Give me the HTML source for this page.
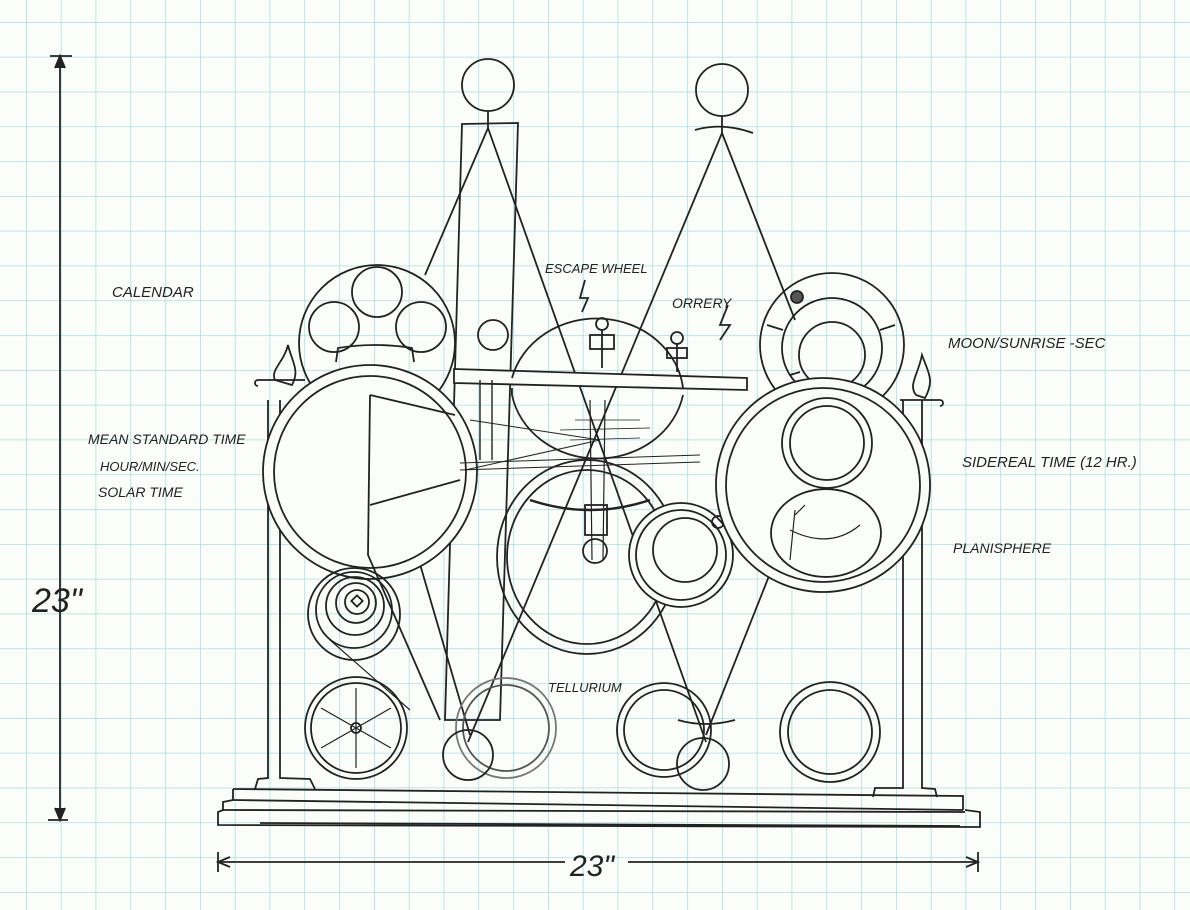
<!DOCTYPE html>
<html><head><meta charset="utf-8"><style>
html,body{margin:0;padding:0;background:#fdfefd;}
svg{display:block;}
text{font-family:"Liberation Sans",sans-serif;font-style:italic;fill:#222;}
</style></head><body>
<svg width="1190" height="910" viewBox="0 0 1190 910" xmlns="http://www.w3.org/2000/svg">
<defs>
<pattern id="g" x="26" y="22" width="34.8" height="34.8" patternUnits="userSpaceOnUse">
<path d="M0 0V34.8M0 0H34.8" stroke="#9fd6d2" stroke-width="1.3" fill="none"/>
</pattern>
</defs>
<rect width="1190" height="910" fill="#fbfdfb"/>
<rect width="1190" height="910" fill="url(#g)"/>

<g stroke="#222" fill="none" stroke-width="1.8">
<!-- dimension vertical -->
<line x1="60" y1="56" x2="60" y2="820"/>
<line x1="50" y1="56" x2="72" y2="56"/>
<path d="M55 68 L60 56 L65 68" fill="#222"/>
<line x1="48" y1="820" x2="68" y2="820"/>
<path d="M55 808 L60 820 L65 808" fill="#222"/>
<!-- dimension horizontal -->
<line x1="218" y1="862" x2="565" y2="862"/>
<line x1="628" y1="862" x2="978" y2="862"/>
<line x1="218" y1="852" x2="218" y2="872"/>
<line x1="978" y1="852" x2="978" y2="872"/>
<path d="M230 857 L218 862 L230 867"/>
<path d="M966 857 L978 862 L966 867"/>

<!-- base -->
<path d="M233 789 L963 796 L963 810"/>
<path d="M233 789 L233 800 L223 802 L223 810 L218 812 L218 825 L980 827 L980 812 L965 810"/>
<line x1="233" y1="800" x2="963" y2="810"/>
<line x1="223" y1="810" x2="965" y2="812"/>
<line x1="260" y1="823" x2="960" y2="826"/>
<!-- columns -->
<path d="M255 789 L258 779 L268 778 L268 400 M280 400 L280 778 L310 779 L315 789"/>
<path d="M873 797 L875 788 L903 788 L903 400 M922 400 L922 788 L935 789 L937 797"/>
<!-- candle flames -->
<path d="M275 380 C270 370 284 362 288 345 C292 362 300 370 292 385 Z"/>
<path d="M916 395 C908 385 918 375 922 355 C928 372 935 380 925 398 Z"/>
<path d="M258 380 L305 380 M258 380 c-4 0 -4 6 0 6 M900 400 L940 400 c4 0 4 6 0 6"/>

<!-- pendulums -->
<circle cx="488" cy="85" r="26"/>
<line x1="488" y1="111" x2="488" y2="128"/>
<path d="M462 124 L518 123 L500 720 L445 720 Z"/>
<line x1="488" y1="128" x2="425" y2="275"/>
<line x1="488" y1="128" x2="706" y2="742"/>
<circle cx="722" cy="90" r="26"/>
<line x1="722" y1="116" x2="722" y2="133"/>
<path d="M695 130 Q722 122 753 133"/>
<line x1="722" y1="133" x2="468" y2="742"/>
<line x1="722" y1="133" x2="795" y2="320"/>
<line x1="369" y1="390" x2="470" y2="735"/>
<line x1="769" y1="576" x2="706" y2="735"/>
<path d="M678 720 Q705 728 735 720"/>

<!-- calendar -->
<circle cx="377" cy="343" r="78"/>
<circle cx="377" cy="292" r="25"/>
<circle cx="334" cy="327" r="25"/>
<circle cx="421" cy="327" r="25"/>
<path d="M336 362 L338 348 Q375 342 412 348 L414 362"/>

<!-- left big ring -->
<circle cx="370" cy="472" r="107" fill="#fbfdfb"/>
<circle cx="370" cy="472" r="96"/>
<path d="M370 395 L368 555 L440 720 M370 395 L455 415 M370 505 L460 480"/>

<!-- bar -->
<path d="M454 369 L747 378 L747 390 L454 383 Z" fill="#fbfdfb"/>

<!-- escape wheel -->
<path d="M512 378 A87 78 0 0 1 683 388"/>
<path d="M683 395 A87 78 0 0 1 512 395 A87 78 0 0 1 512 388"/>
<path d="M470 420 L600 440 L465 470" stroke-width="1"/>
<path d="M480 380 L480 460 M492 380 L492 460" stroke-width="1.4"/>
<path d="M460 463 L700 455 M460 470 L700 462" stroke-width="1"/>
<path d="M575 420 L640 420 M560 430 L650 428 M570 440 L640 438" stroke-width="0.8"/>
<path d="M590 400 L592 560 M605 400 L603 560" stroke-width="1.2"/>
<!-- figures -->
<circle cx="602" cy="324" r="6"/><rect x="590" y="335" width="24" height="14"/>
<line x1="602" y1="330" x2="602" y2="368"/>
<circle cx="677" cy="338" r="6"/><rect x="667" y="348" width="20" height="10"/>
<line x1="677" y1="344" x2="677" y2="372"/>
<circle cx="493" cy="335" r="15"/>
<path d="M585 280 L580 298 L588 298 L582 312 M728 305 L720 325 L730 325 L720 340"/>

<!-- lower center ring -->
<ellipse cx="587" cy="557" rx="90" ry="97"/>
<ellipse cx="587" cy="557" rx="80" ry="87"/>
<circle cx="595" cy="551" r="12"/>
<path d="M530 500 Q590 520 650 500" stroke-width="2.5"/>
<rect x="585" y="505" width="22" height="30"/>
<!-- small orrery ring -->
<circle cx="681" cy="555" r="52" fill="#fbfdfb"/>
<circle cx="681" cy="555" r="45"/>
<circle cx="685" cy="550" r="32"/>
<circle cx="718" cy="522" r="6"/>

<!-- moon dial -->
<circle cx="832" cy="345" r="72"/>
<circle cx="832" cy="348" r="50"/>
<circle cx="832" cy="355" r="33"/>
<path d="M767 325 L783 330 M880 330 L895 325 M790 375 L800 372"/>
<circle cx="797" cy="297" r="6" fill="#555"/>
<!-- right big ring -->
<circle cx="823" cy="485" r="107" fill="#fbfdfb"/>
<circle cx="823" cy="485" r="97"/>
<circle cx="827" cy="443" r="45"/>
<circle cx="827" cy="443" r="37"/>
<path d="M771 533 A55 44 0 0 1 881 533 A55 44 0 0 1 771 533 Z"/>
<path d="M790 530 Q830 550 860 525" stroke-width="1.2"/>
<path d="M795 510 L790 560 M805 505 L795 515" stroke-width="1.2"/>

<!-- spiral -->
<circle cx="354" cy="614" r="46"/>
<circle cx="354" cy="610" r="38"/>
<circle cx="355" cy="606" r="29"/>
<circle cx="356" cy="603" r="20"/>
<circle cx="357" cy="602" r="12"/>
<rect x="353" y="597" width="8" height="8" transform="rotate(45 357 601)"/>
<line x1="330" y1="640" x2="410" y2="710" stroke-width="1.2"/>

<!-- bottom wheels -->
<circle cx="356" cy="728" r="51"/>
<circle cx="356" cy="728" r="45"/>
<circle cx="356" cy="728" r="5"/>
<path d="M356 688 L356 768 M321 708 L391 748 M321 748 L391 708" stroke-width="1.2"/>
<circle cx="506" cy="728" r="50" stroke="#777"/>
<circle cx="506" cy="728" r="43" stroke="#555"/>
<circle cx="468" cy="755" r="25"/>
<circle cx="664" cy="730" r="47"/>
<circle cx="664" cy="730" r="40"/>
<circle cx="703" cy="764" r="26"/>
<circle cx="830" cy="732" r="50"/>
<circle cx="830" cy="732" r="42"/>
</g>

<g font-size="14">
<text x="112" y="297" font-size="15">CALENDAR</text>
<text x="545" y="273" font-size="13">ESCAPE WHEEL</text>
<text x="672" y="308" font-size="14">ORRERY</text>
<text x="948" y="348" font-size="15">MOON/SUNRISE -SEC</text>
<text x="88" y="444" font-size="14">MEAN STANDARD TIME</text>
<text x="100" y="471" font-size="13">HOUR/MIN/SEC.</text>
<text x="98" y="497" font-size="14">SOLAR TIME</text>
<text x="962" y="467" font-size="15">SIDEREAL TIME (12 HR.)</text>
<text x="953" y="553" font-size="14">PLANISPHERE</text>
<text x="548" y="692" font-size="13">TELLURIUM</text>
<text x="32" y="612" font-size="34">23"</text>
<text x="570" y="876" font-size="30">23"</text>
</g>
</svg>
</body></html>
